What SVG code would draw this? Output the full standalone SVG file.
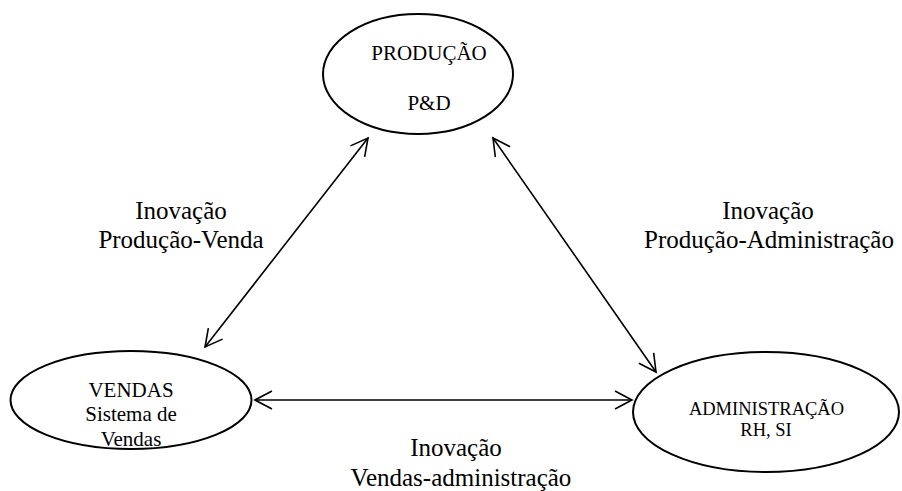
<svg xmlns="http://www.w3.org/2000/svg" width="902" height="491" viewBox="0 0 902 491">
<style>
.node ellipse{fill:#fff;stroke:#000;stroke-width:2}
.nt{font-family:"Liberation Serif","Times New Roman",serif;fill:#000;text-anchor:middle}
.lbl{font-family:"Liberation Serif","Times New Roman",serif;fill:#000;text-anchor:middle;font-size:25px}
.conn line{stroke:#000;stroke-width:1.6;fill:none}
</style>
<defs>
<marker id="ah" viewBox="-20 -12 24 24" refX="0" refY="0" markerWidth="24" markerHeight="24" markerUnits="userSpaceOnUse" orient="auto-start-reverse">
<path d="M-17,-9 L0,0 L-17,9" fill="none" stroke="#000" stroke-width="1.6"/>
</marker>
</defs>
<rect width="902" height="491" fill="#fff"/>
<g id="producao" class="node">
<ellipse cx="418" cy="74" rx="95" ry="60"/>
<text class="nt" x="429" y="60" font-size="21">PRODUÇÃO</text>
<text class="nt" x="429" y="110" font-size="21">P&amp;D</text>
</g>
<g id="vendas" class="node">
<ellipse cx="131" cy="400" rx="120.5" ry="49"/>
<text class="nt" x="131" y="397" font-size="21">VENDAS</text>
<text class="nt" x="131" y="421" font-size="21">Sistema de</text>
<text class="nt" x="131" y="446" font-size="21">Vendas</text>
</g>
<g id="administracao" class="node">
<ellipse cx="766" cy="412" rx="133" ry="60"/>
<text class="nt" x="766.5" y="415" font-size="18.5">ADMINISTRAÇÃO</text>
<text class="nt" x="766" y="436" font-size="18.5">RH, SI</text>
</g>
<g id="connectors" class="conn">
<line x1="205" y1="347" x2="368" y2="138" marker-start="url(#ah)" marker-end="url(#ah)"/>
<line x1="493" y1="138" x2="656" y2="372" marker-start="url(#ah)" marker-end="url(#ah)"/>
<line x1="255" y1="400" x2="632" y2="400" marker-start="url(#ah)" marker-end="url(#ah)"/>
</g>
<g id="labels">
<text class="lbl" x="181" y="219">Inovação</text>
<text class="lbl" x="181" y="248">Produção-Venda</text>
<text class="lbl" x="768" y="219">Inovação</text>
<text class="lbl" x="769" y="248">Produção-Administração</text>
<text class="lbl" x="456" y="456">Inovação</text>
<text class="lbl" x="461" y="486">Vendas-administração</text>
</g>
</svg>
